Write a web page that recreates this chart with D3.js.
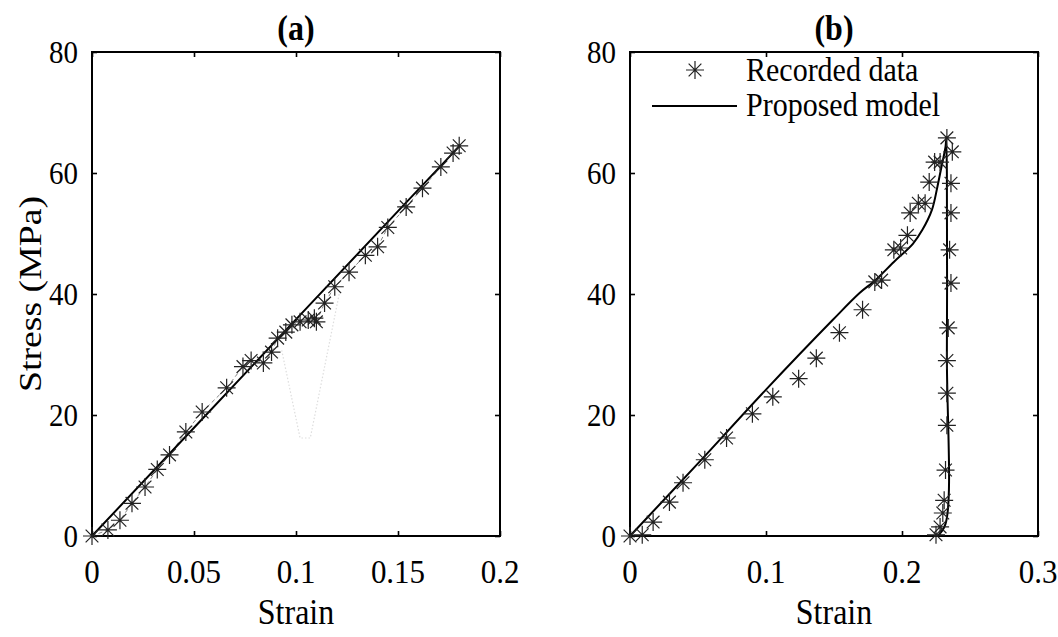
<!DOCTYPE html>
<html>
<head>
<meta charset="utf-8">
<script src="https://cdn.jsdelivr.net/npm/d3@7"></script>
<style>
  body { margin: 0; background: #fff; }
  text { font-family: "Liberation Serif", "Times New Roman", serif; fill: #000; }
</style>
</head>
<body>
<div id="chart-area"></div>
<script>
// panel (a) recorded data
var aStrain = [0, 0.0078, 0.0137, 0.0196, 0.026, 0.032, 0.038, 0.046, 0.054, 0.066, 0.074, 0.078, 0.084, 0.088,
  0.091, 0.095, 0.098, 0.102, 0.106, 0.109, 0.110, 0.114, 0.119, 0.126, 0.134, 0.140, 0.145, 0.154, 0.162, 0.171, 0.177, 0.180];
var aStress = [0, 1, 2.6, 5.4, 8.1, 11, 13.4, 17.2, 20.5, 24.5, 28, 29, 28.6, 30.4,
  32.7, 33.7, 34.9, 35.4, 35.7, 36, 35.4, 38.5, 41.2, 43.6, 46.4, 47.8, 51, 54.4, 57.5, 61, 63.3, 64.5];
// panel (a) proposed model
var aModelStrain = [0, 0.05, 0.1, 0.15, 0.18];
var aModelStress = [0, 17.9, 35.8, 53.7, 64.4];
// faint ghost trace in (a)
var aGhostStrain = [0.093, 0.102, 0.107, 0.1216];
var aGhostStress = [30.7, 16.2, 16.2, 40.7];

// panel (b) recorded data
var bStrain = [0, 0.009, 0.017, 0.029, 0.039, 0.055, 0.071, 0.090, 0.105, 0.124, 0.137, 0.154, 0.171, 0.180, 0.185,
  0.194, 0.199, 0.204, 0.206, 0.212, 0.217, 0.220, 0.224, 0.228, 0.233, 0.237,
  0.236, 0.236, 0.235, 0.236, 0.234, 0.233, 0.233, 0.233, 0.232, 0.231, 0.230, 0.228, 0.225];
var bStress = [0, 0.2, 2.3, 5.6, 8.8, 12.6, 16.2, 20.2, 23, 26, 29.4, 33.6, 37.4, 42, 42.3,
  47.3, 47.6, 49.7, 53.4, 55, 55, 58.5, 61.8, 61.8, 65.8, 63.5,
  58.3, 53.4, 47.3, 41.8, 34.4, 29, 23.6, 18.3, 10.9, 5.9, 3.8, 1.5, 0.2];
// panel (b) proposed model
var bModelStrain = [0, 0.05, 0.1, 0.149, 0.169, 0.180, 0.194, 0.208, 0.215, 0.222, 0.226, 0.229, 0.232, 0.2325, 0.233, 0.233, 0.232, 0.226];
var bModelStress = [0, 12, 24.2, 35.7, 40.2, 42.2, 45.3, 48.3, 50.6, 53.9, 57.7, 61, 64.3, 65.5, 60, 30, 2, 0];

var xTicksA = [0, 0.05, 0.1, 0.15, 0.2];
var xTicksB = [0, 0.1, 0.2, 0.3];
var yTicks = [0, 20, 40, 60, 80];

var W = 1058, H = 637;
var top_ = 52, bottom = 536;

var svg = d3.select("#chart-area").append("svg")
  .attr("width", W).attr("height", H);
svg.append("rect").attr("width", W).attr("height", H).attr("fill", "#fff");

function star(r) {
  var k = r * 0.7071;
  return "M" + (-r) + ",0H" + r + "M0," + (-r) + "V" + r +
    "M" + (-k) + "," + (-k) + "L" + k + "," + k + "M" + (-k) + "," + k + "L" + k + "," + (-k);
}

function panel(opt) {
  var x = d3.scaleLinear().domain(opt.xDomain).range([opt.left, opt.right]);
  var y = d3.scaleLinear().domain([0, 80]).range([bottom, top_]);
  var g = svg.append("g");

  // ticks on all four sides, pointing inward
  g.append("g").attr("transform", "translate(0," + bottom + ")")
    .call(d3.axisBottom(x).tickValues(opt.xTicks).tickSize(-5).tickFormat(""));
  g.append("g").attr("transform", "translate(0," + top_ + ")")
    .call(d3.axisTop(x).tickValues(opt.xTicks).tickSize(-5).tickFormat(""));
  g.append("g").attr("transform", "translate(" + opt.left + ",0)")
    .call(d3.axisLeft(y).tickValues(yTicks).tickSize(-5).tickFormat(""));
  g.append("g").attr("transform", "translate(" + opt.right + ",0)")
    .call(d3.axisRight(y).tickValues(yTicks).tickSize(-5).tickFormat(""));
  g.selectAll(".domain").remove();
  g.selectAll(".tick line").attr("stroke", "#000").attr("stroke-width", 1.6);

  g.append("rect")
    .attr("x", opt.left).attr("y", top_)
    .attr("width", opt.right - opt.left).attr("height", bottom - top_)
    .attr("fill", "none").attr("stroke", "#000").attr("stroke-width", 2);

  // tick labels
  g.selectAll(".xl").data(opt.xTicks).enter().append("text")
    .attr("text-anchor", "middle").attr("font-size", 31)
    .attr("transform", d => "translate(" + x(d) + "," + (bottom + 47) + ") scale(1,1.12)")
    .text(d => String(d));
  g.selectAll(".yl").data(yTicks).enter().append("text")
    .attr("text-anchor", "end").attr("font-size", 29)
    .attr("transform", d => "translate(" + (opt.left - 14) + "," + (y(d) + 11) + ") scale(1,1.12)")
    .text(d => String(d));

  g.append("text").attr("text-anchor", "middle").attr("font-size", 32)
    .attr("transform", "translate(" + ((opt.left + opt.right) / 2) + ",624) scale(1,1.12)")
    .text("Strain");
  g.append("text").attr("text-anchor", "middle").attr("font-size", 32).attr("font-weight", "bold")
    .attr("transform", "translate(" + ((opt.left + opt.right) / 2) + ",40) scale(1,1.12)")
    .text(opt.title);

  if (opt.ghostX) {
    g.append("path")
      .datum(d3.range(opt.ghostX.length))
      .attr("fill", "none").attr("stroke", "#ddd").attr("stroke-width", 1.2)
      .attr("stroke-dasharray", "1.5,2")
      .attr("d", d3.line().x(i => x(opt.ghostX[i])).y(i => y(opt.ghostY[i])));
  }

  if (opt.dataLine) {
    g.append("path")
      .datum(d3.range(opt.px.length))
      .attr("fill", "none").attr("stroke", "#888").attr("stroke-width", 1)
      .attr("stroke-dasharray", "4,3")
      .attr("d", d3.line().x(i => x(opt.px[i])).y(i => y(opt.py[i])));
  }

  g.append("path")
    .datum(d3.range(opt.mx.length))
    .attr("fill", "none").attr("stroke", "#000").attr("stroke-width", 2)
    .attr("stroke-linejoin", "round")
    .attr("d", d3.line().curve(opt.curve || d3.curveLinear)
      .x(i => x(opt.mx[i])).y(i => y(opt.my[i])));

  g.selectAll(".pt").data(d3.range(opt.px.length)).enter().append("path")
    .attr("transform", i => "translate(" + x(opt.px[i]) + "," + y(opt.py[i]) + ")")
    .attr("d", star(9))
    .attr("fill", "none").attr("stroke", "#222").attr("stroke-width", 1.2);

  return { x: x, y: y, g: g };
}

panel({ left: 92, right: 500, xDomain: [0, 0.2], xTicks: xTicksA, title: "(a)",
  px: aStrain, py: aStress, mx: aModelStrain, my: aModelStress,
  ghostX: aGhostStrain, ghostY: aGhostStress, dataLine: true });
panel({ left: 630, right: 1038, xDomain: [0, 0.3], xTicks: xTicksB, title: "(b)",
  px: bStrain, py: bStress, mx: bModelStrain, my: bModelStress,
  curve: d3.curveCatmullRom.alpha(0.5) });

// y label
svg.append("text").attr("text-anchor", "middle").attr("font-size", 32)
  .attr("transform", "translate(41,294) rotate(-90) scale(1.18,1)")
  .text("Stress (MPa)");

// legend in (b)
var leg = svg.append("g");
leg.append("path").attr("transform", "translate(695,70)").attr("d", star(9))
  .attr("fill", "none").attr("stroke", "#222").attr("stroke-width", 1.2);
leg.append("text").attr("font-size", 30)
  .attr("transform", "translate(746,81) scale(1,1.12)").text("Recorded data");
leg.append("line").attr("x1", 652).attr("x2", 737).attr("y1", 106).attr("y2", 106)
  .attr("stroke", "#000").attr("stroke-width", 2);
leg.append("text").attr("font-size", 30)
  .attr("transform", "translate(746,116) scale(1,1.12)").text("Proposed model");
</script>
</body>
</html>
